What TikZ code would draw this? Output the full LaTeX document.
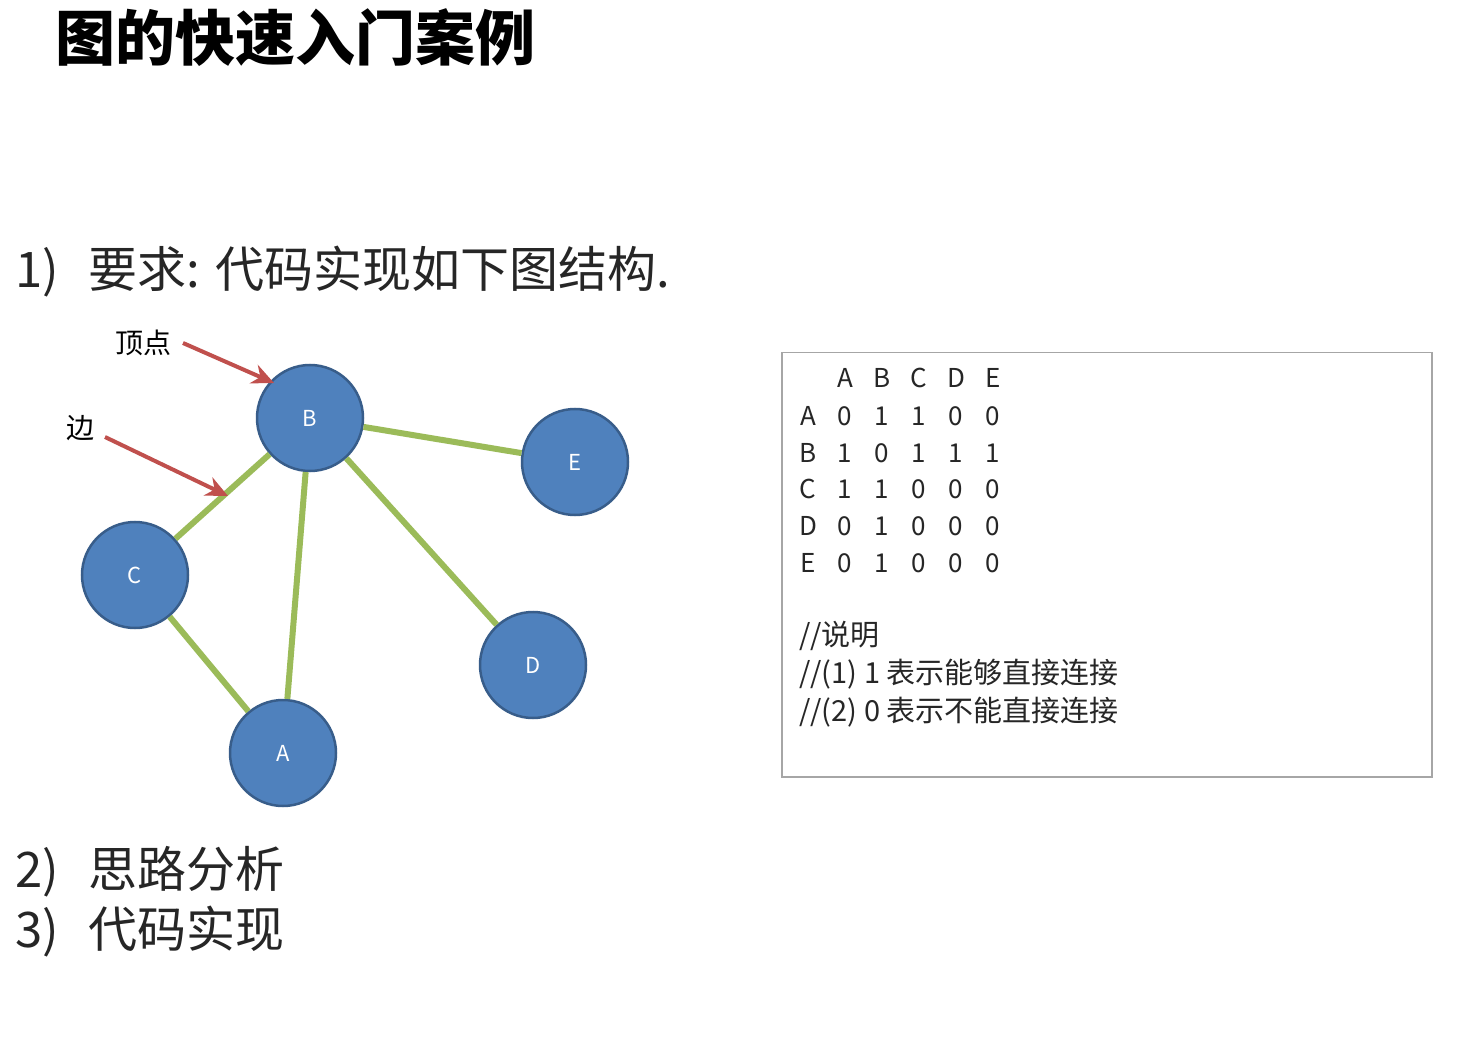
\documentclass[tikz,border=0pt]{standalone}
\usepackage{fontspec}
\setmainfont{Noto Sans CJK SC}
\usetikzlibrary{arrows.meta}
\definecolor{nodeblue}{HTML}{4F81BD}
\definecolor{nodeedge}{HTML}{385D8A}
\definecolor{edgegreen}{HTML}{9BBB59}
\definecolor{arrowred}{HTML}{C0504D}
\tikzset{
 vert/.style={circle,minimum size=106pt,fill=nodeblue,draw=nodeedge,line width=2.5pt,text=white,font=\fontsize{22}{24}\selectfont,inner sep=0pt},
 gedge/.style={draw=edgegreen,line width=6pt},
 redarrow/.style={draw=arrowred,line width=4pt,-{Stealth[length=22pt,width=20pt]}},
 big/.style={font=\fontsize{49}{52}\selectfont,text=black!85,anchor=west,inner sep=0pt},
 mat/.style={font=\fontsize{26}{28}\selectfont,text=black!85,inner sep=0pt},
 note/.style={font=\fontsize{29}{31}\selectfont,text=black!85,anchor=west,inner sep=0pt},
}
\begin{document}
\begin{tikzpicture}[x=1pt,y=-1pt]
\useasboundingbox[fill=white] (0,0) rectangle (1473,1040);
\node[font=\fontsize{60}{64}\selectfont\bfseries,anchor=west,inner sep=0pt] (title) at (55,38) {图的快速入门案例};
\node[big] (req) at (15,272) {1)\hspace{30pt}要求: 代码实现如下图结构.};
\node[big] (s2) at (15,872) {2)\hspace{30pt}思路分析};
\node[big] (s3) at (15,932) {3)\hspace{30pt}代码实现};
% graph
\node[vert] (B) at (310,418) {B};
\node[vert] (E) at (575,462) {E};
\node[vert] (C) at (135,575) {C};
\node[vert] (D) at (533,665) {D};
\node[vert] (A) at (283,753) {A};
\path[gedge] (B) -- (E);
\path[gedge] (B) -- (C);
\path[gedge] (B) -- (A);
\path[gedge] (B) -- (D);
\path[gedge] (C) -- (A);
\node[font=\fontsize{28}{30}\selectfont,inner sep=0pt] (lv) at (143,343) {顶点};
\node[font=\fontsize{28}{30}\selectfont,inner sep=0pt] (le) at (80,428) {边};
\coordinate (a1s) at (183,343);
\coordinate (a1e) at (274,383);
\coordinate (a2s) at (105,437);
\coordinate (a2e) at (228,496);
\draw[redarrow] (a1s) -- (a1e);
\draw[redarrow] (a2s) -- (a2e);
% matrix box
\node[draw=black!35,line width=1.5pt,minimum width=650pt,minimum height=424pt,anchor=north west,inner sep=0pt] (box) at (781,352) {};
\foreach \t [count=\i] in {A,B,C,D,E}
  \node[mat] (h\i) at ({808+37*\i},378) {\t};
\foreach \r/\y/\v [count=\j] in {A/416/{0,1,1,0,0},B/453/{1,0,1,1,1},C/489/{1,1,0,0,0},D/526/{0,1,0,0,0},E/563/{0,1,0,0,0}}{
  \node[mat] (r\j) at (808,\y) {\r};
  \foreach \x [count=\i] in \v
    \node[mat] (m\j\i) at ({808+37*\i},\y) {\x};
}
\node[note] (n1) at (799,636) {//说明};
\node[note] (n2) at (799,674) {//(1) 1 表示能够直接连接};
\node[note] (n3) at (799,712) {//(2) 0 表示不能直接连接};
\end{tikzpicture}
\end{document}
